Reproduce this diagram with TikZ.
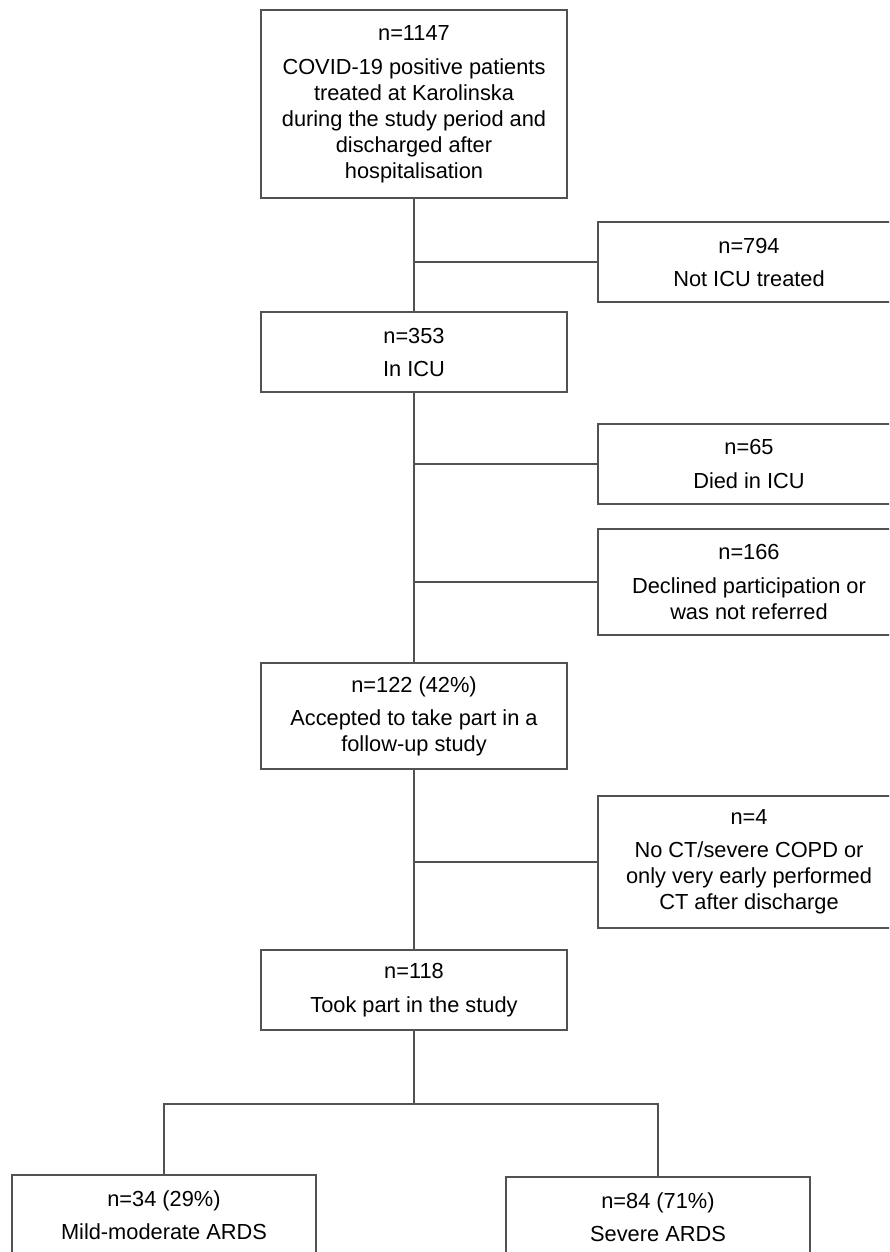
\documentclass[tikz,border=0pt]{standalone}
\usepackage{fontspec}
\setmainfont{Liberation Sans}
\begin{document}
\begin{tikzpicture}[x=1pt,y=-1pt,
  box/.style={draw=black!68, line width=1.7pt, fill=white, text=black,
    align=center, inner sep=0pt,
    font=\fontsize{21.8}{26}\selectfont},
  link/.style={draw=black!68, line width=1.7pt}]
\useasboundingbox (0,0) rectangle (889,1252);
\fill[white] (0,0) rectangle (889,1252);
\clip (0,0) rectangle (889,1252);

\node[box, minimum width=306pt, minimum height=188pt] (top) at (414,104)
  {n=1147\\[8pt]COVID-19 positive patients\\treated at Karolinska\\during the study period and\\discharged after\\hospitalisation};
\node[box, minimum width=302pt, minimum height=80pt] (r794) at (749,262)
  {n=794\\[7pt]Not ICU treated};
\node[box, minimum width=306pt, minimum height=80pt] (b353) at (414,352)
  {n=353\\[7pt]In ICU};
\node[box, minimum width=302pt, minimum height=80pt] (r65) at (749,464)
  {n=65\\[8pt]Died in ICU};
\node[box, minimum width=302pt, minimum height=106pt] (r166) at (749,582)
  {n=166\\[8pt]Declined participation or\\was not referred};
\node[box, minimum width=306pt, minimum height=106pt] (b122) at (414,716)
  {n=122 (42\%)\\[7pt]Accepted to take part in a\\follow-up study};
\node[box, minimum width=302pt, minimum height=132pt] (r4) at (749,862)
  {n=4\\[7pt]No CT/severe COPD or\\only very early performed\\CT after discharge};
\node[box, minimum width=306pt, minimum height=80pt] (b118) at (414,990)
  {n=118\\[8pt]Took part in the study};
\node[box, minimum width=304pt, minimum height=80pt] (bl) at (164,1215)
  {n=34 (29\%)\\[7pt]Mild-moderate ARDS};
\node[box, minimum width=304pt, minimum height=80pt] (br) at (658,1217)
  {n=84 (71\%)\\[7pt]Severe ARDS};

\draw[link] (top) -- (b353);
\draw[link] (top.south |- r794.west) -- (r794.west);
\draw[link] (b353) -- (b122);
\draw[link] (b353.south |- r65.west) -- (r65.west);
\draw[link] (b353.south |- r166.west) -- (r166.west);
\draw[link] (b122) -- (b118);
\draw[link] (b122.south |- r4.west) -- (r4.west);
\coordinate (split) at (414,1104);
\draw[link] (b118.south) -- (split);
\draw[link] (bl.north) |- (split) -| (br.north);
\end{tikzpicture}
\end{document}
